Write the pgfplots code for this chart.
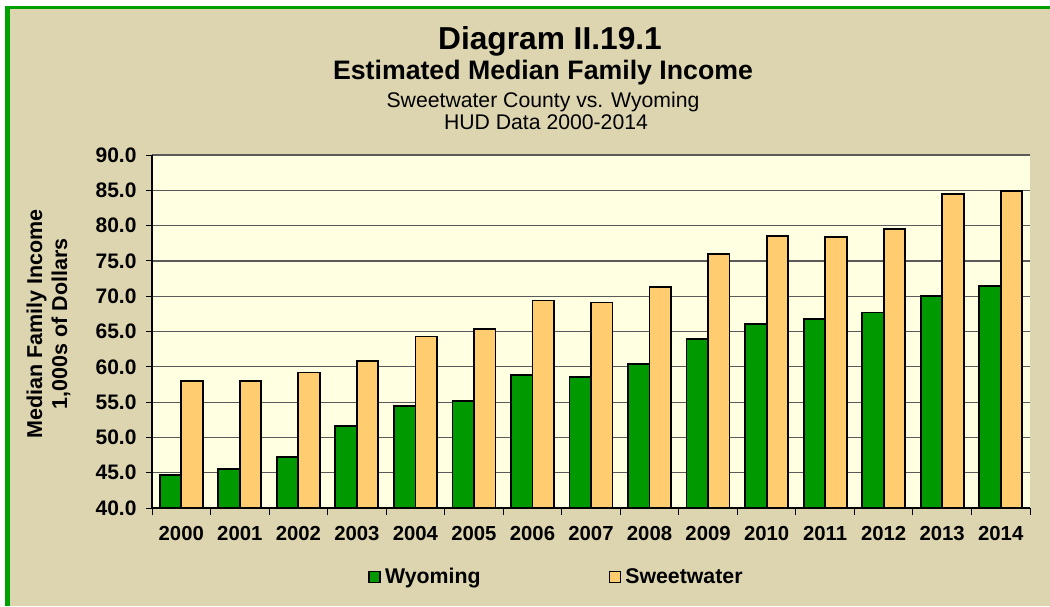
\documentclass[border=0pt]{standalone}
\usepackage{fontspec}
\setmainfont{Liberation Sans}
\usepackage{pgfplots}
\pgfplotsset{compat=1.18}
\definecolor{bgc}{HTML}{DDD5B0}
\definecolor{bordergreen}{HTML}{00A000}
\definecolor{plotbg}{HTML}{FFFFE1}
\definecolor{wygreen}{HTML}{009900}
\definecolor{swor}{HTML}{FFCC70}
\definecolor{gridc}{HTML}{5A5A5A}
\begin{document}
\begin{tikzpicture}[x=1pt,y=1pt]
\useasboundingbox (0,0) rectangle (1050,606);
\fill[white] (0,0) rectangle (1050,606);
\fill[bgc] (5,0) rectangle (1050,600);
\draw[bordergreen, line width=5pt] (7.5,0) -- (7.5,600);
\draw[bordergreen, line width=3pt] (5,598.5) -- (1050,598.5);
\node[anchor=base, font=\fontsize{31.7}{36}\selectfont\bfseries] at (550,556) {Diagram II.19.1};
\node[anchor=base, font=\fontsize{26.7}{30}\selectfont\bfseries] at (543,526) {Estimated Median Family Income};
\node[anchor=base, font=\fontsize{21.2}{25}\selectfont] at (543,498) {Sweetwater County vs. Wyoming};
\node[anchor=base, font=\fontsize{21.2}{25}\selectfont] at (546,476) {HUD Data 2000-2014};
\node[anchor=base, rotate=90, font=\fontsize{21.5}{25}\selectfont\bfseries] at (42,282) {Median Family Income};
\node[anchor=base, rotate=90, font=\fontsize{21.5}{25}\selectfont\bfseries] at (67,282) {1,000s of Dollars};
\begin{axis}[
  at={(152pt,98pt)}, anchor=south west,
  width=878pt, height=353pt, scale only axis,
  xmin=-0.5, xmax=14.5, ymin=40, ymax=90,
  ybar=0pt, bar width=21.5pt,
  xtick={0,...,14},
  xticklabels={2000,2001,2002,2003,2004,2005,2006,2007,2008,2009,2010,2011,2012,2013,2014},
  minor xtick={-0.5,0.5,...,14.5},
  ytick={40,45,...,90},
  tick align=outside, major tick length=6pt, minor tick length=7pt,
  major x tick style={draw=none},
  minor x tick style={black, line width=1pt},
  major y tick style={black, line width=1pt},
  axis x line*=bottom, axis y line*=left,
  axis line style={black, line width=1.2pt},
  ymajorgrids, major grid style={gridc, line width=1.2pt},
  axis background/.style={fill=plotbg},
  /pgf/number format/assume math mode=true,
  yticklabel style={xshift=-6pt, font=\fontsize{21}{24}\selectfont\bfseries,
    /pgf/number format/.cd, fixed, fixed zerofill, precision=1},
  xticklabel style={yshift=-9pt, font=\fontsize{20.3}{24}\selectfont\bfseries},
  legend style={at={(0.4607,-0.195)}, anchor=center, draw=none, fill=none,
    legend columns=2, font=\fontsize{21.3}{24}\selectfont\bfseries,
    /tikz/every even column/.append style={column sep=126pt}},
  legend image code/.code={\draw[#1, line width=1.5pt] (0pt,-5.5pt) rectangle (11pt,5.5pt); \path[draw=none, fill=none] (0pt,0pt) -- (14pt,0pt);},
]
\addplot[fill=wygreen, draw=black, line width=1.8pt] coordinates {
(0,44.7) (1,45.5) (2,47.2) (3,51.6) (4,54.5) (5,55.2) (6,58.8) (7,58.5)
(8,60.4) (9,63.9) (10,66.1) (11,66.8) (12,67.7) (13,70.0) (14,71.4)};
\addplot[fill=swor, draw=black, line width=1.8pt] coordinates {
(0,58.0) (1,58.0) (2,59.2) (3,60.8) (4,64.3) (5,65.3) (6,69.4) (7,69.1)
(8,71.3) (9,76.0) (10,78.5) (11,78.4) (12,79.5) (13,84.5) (14,84.9)};
\legend{Wyoming,Sweetwater}
\end{axis}
\end{tikzpicture}
\end{document}
